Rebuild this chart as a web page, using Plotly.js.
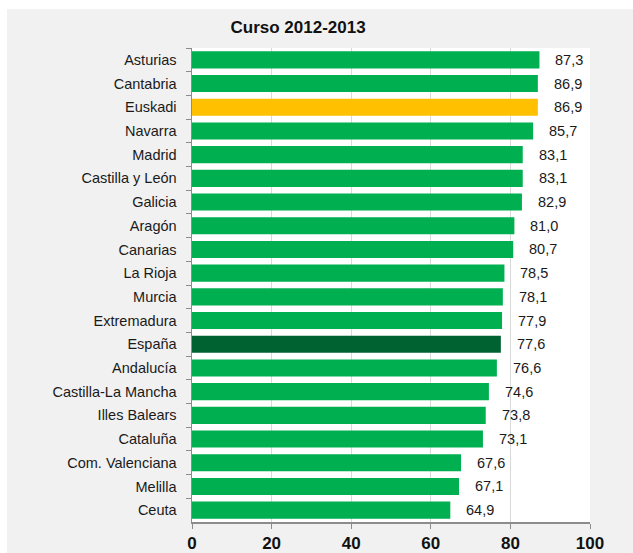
<!DOCTYPE html>
<html>
<head>
<meta charset="utf-8">
<script src="https://cdn.plot.ly/plotly-3.0.1.min.js"></script>
<style>
html,body{margin:0;padding:0;background:#ffffff;}
#chart{position:absolute;left:7px;top:9px;width:626px;height:544px;}
</style>
</head>
<body>
<div id="chart"></div>
<script>
var categories = ["Asturias","Cantabria","Euskadi","Navarra","Madrid","Castilla y León","Galicia","Aragón","Canarias","La Rioja","Murcia","Extremadura","España","Andalucía","Castilla-La Mancha","Illes Balears","Cataluña","Com. Valenciana","Melilla","Ceuta"];
var values = [87.3,86.9,86.9,85.7,83.1,83.1,82.9,81.0,80.7,78.5,78.1,77.9,77.6,76.6,74.6,73.8,73.1,67.6,67.1,64.9];
var xTicks = [0,20,40,60,80,100];
var titleText = "Curso 2012-2013";

var colors = categories.map(function(c){
  if (c === "Euskadi") return "#ffc000";
  if (c === "España") return "#006230";
  return "#00b050";
});

var labels = values.map(function(v){ return v.toFixed(1).replace('.', ','); });

var fam = 'Liberation Sans Narrow, Arial Narrow, Liberation Sans, sans-serif';

var annotations = categories.map(function(c, i){
  return {x: values[i], y: c, xref: 'x', yref: 'y', text: labels[i], showarrow: false,
          xanchor: 'left', xshift: 14,
          font: {family: fam, size: 14.5, color: '#1a1a1a'}};
});

var trace = {
  type: 'bar', orientation: 'h',
  x: values, y: categories,
  marker: {color: colors, line: {width: 0}},
  hoverinfo: 'none'
};

var layout = {
  width: 626, height: 544,
  paper_bgcolor: '#f1f1f1', plot_bgcolor: '#ffffff',
  margin: {l: 185, r: 43, t: 39, b: 31},
  bargap: 0.28,
  showlegend: false,
  title: {text: titleText, xref: 'container', x: 0.465, xanchor: 'center', yref: 'container', y: 0.967, yanchor: 'middle',
          font: {family: fam, size: 17, weight: 'bold', color: '#111111'}},
  xaxis: {range: [0, 100], tickvals: xTicks, ticktext: xTicks.map(String), showgrid: true, gridcolor: '#d9d9d9', gridwidth: 1,
          showline: true, linecolor: '#8c8c8c', linewidth: 1.5, ticks: 'outside', ticklen: 5, tickcolor: '#8c8c8c', zeroline: false,
          tickfont: {family: fam, size: 17, weight: 'bold', color: '#111111'}, fixedrange: true},
  yaxis: {autorange: 'reversed', type: 'category', showgrid: false, showline: true, linecolor: '#8c8c8c', linewidth: 1.5,
          ticks: 'outside', tickson: 'boundaries', ticklen: 5, tickcolor: '#8c8c8c', ticklabelstandoff: 11,
          tickfont: {family: fam, size: 14.5, color: '#1a1a1a'}, fixedrange: true},
  annotations: annotations
};

Plotly.newPlot('chart', [trace], layout, {displayModeBar: false, staticPlot: true});
</script>
</body>
</html>
